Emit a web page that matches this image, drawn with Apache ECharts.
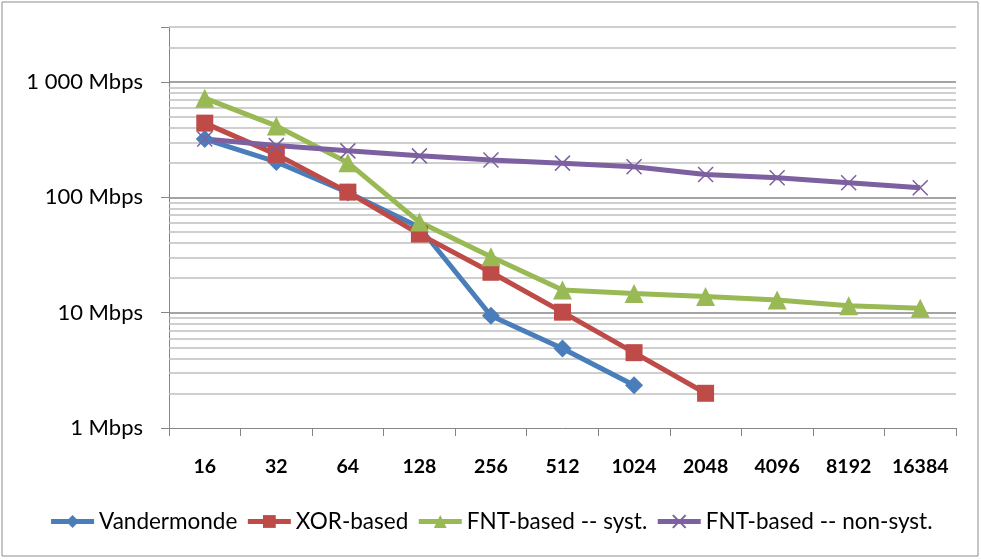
<!DOCTYPE html>
<html><head><meta charset="utf-8">
<script src="https://cdn.jsdelivr.net/npm/echarts@6/dist/echarts.min.js"></script>
<style>html,body{margin:0;padding:0;background:#fff}#c{width:981px;height:560px}</style>
</head><body><div id="c"></div>
<script>
const categories = ['16','32','64','128','256','512','1024','2048','4096','8192','16384'];
const vandermonde = [320, 203, 110, 55, 9.4, 4.9, 2.35, null, null, null, null];
const xorBased = [440, 236, 111, 48, 22.4, 10.1, 4.5, 2.0, null, null, null];
const fntSyst = [725, 416, 200, 61, 30.6, 15.7, 14.7, 13.8, 12.9, 11.5, 10.9];
const fntNonSyst = [320, 281, 253, 229, 211, 198, 184, 158, 148, 134, 121];
const majorLines = [10, 100, 1000];
const minorLines = [2,3,4,5,6,7,8,9,20,30,40,50,60,70,80,90,200,300,400,500,600,700,800,900,2000,3000];

const FONT = 'Lato';
const chart = echarts.init(document.getElementById('c'));
const xShape = 'path://M0,0L10,10M10,0L0,10';
function ser(name, data, color, symbol, size, extra) {
  return Object.assign({
    name, type: 'line', data, symbol, symbolSize: size, showSymbol: true,
    lineStyle: { color, width: 5 }, itemStyle: { color }, connectNulls: false,
    z: 3
  }, extra || {});
}
chart.setOption({
  animation: false,
  backgroundColor: '#fff',
  graphic: [{ type: 'rect', shape: { x: 2, y: 2, width: 976, height: 554 },
    style: { fill: 'none', stroke: '#8c8c8c', lineWidth: 1 }, z: -1 }],
  grid: { left: 169, right: 25, top: 27, bottom: 132, containLabel: false },
  legend: {
    bottom: 22, left: 'center', itemWidth: 43, itemHeight: 16, itemGap: 8,
    lineStyle: { width: 5 },
    textStyle: { fontFamily: FONT, fontSize: 22.5, color: '#000' },
    data: ['Vandermonde', 'XOR-based', 'FNT-based -- syst.', 'FNT-based -- non-syst.']
  },
  xAxis: {
    type: 'category', data: categories, boundaryGap: true,
    axisLine: { lineStyle: { color: '#868686', width: 1 } },
    axisTick: { show: true, interval: 0, length: 8, lineStyle: { color: '#868686' } },
    axisLabel: { interval: 0, margin: 29, fontFamily: FONT, fontSize: 19.5, fontWeight: 'bold', color: '#000' },
    splitLine: { show: false }
  },
  yAxis: {
    type: 'log', logBase: 10, min: 1, max: 3000,
    axisLine: { show: true, lineStyle: { color: '#868686', width: 1 } },
    axisTick: { show: true, length: 8, lineStyle: { color: '#868686' } },
    axisLabel: {
      margin: 26, fontFamily: FONT, fontSize: 22, color: '#000',
      formatter: v => {
        const l = Math.log10(v);
        if (Math.abs(l - Math.round(l)) > 1e-6) return '';
        return Math.round(v).toString().replace(/\B(?=(\d{3})+(?!\d))/g, ' ') + ' Mbps';
      }
    },
    splitLine: { show: false },
    minorTick: { show: false }, minorSplitLine: { show: false }
  },
  series: [
    { name: '_grid', type: 'line', data: [], silent: true, z: 1,
      markLine: { silent: true, symbol: 'none', z: 1, animation: false,
        label: { show: false },
        data: minorLines.map(v => ({ yAxis: v, lineStyle: { color: '#bfbfbf', width: 1.5, type: 'solid' } }))
          .concat(majorLines.map(v => ({ yAxis: v, lineStyle: { color: '#868686', width: 1.5, type: 'solid' } })))
      } },
    ser('Vandermonde', vandermonde, '#4A7EBB', 'diamond', 18),
    ser('XOR-based', xorBased, '#BE4B48', 'rect', 17),
    ser('FNT-based -- syst.', fntSyst, '#98B954', 'triangle', 19),
    ser('FNT-based -- non-syst.', fntNonSyst, '#7D60A0', xShape, 15,
      { itemStyle: { color: 'none', borderColor: '#7D60A0', borderWidth: 1.5 } })
  ]
});
</script></body></html>
